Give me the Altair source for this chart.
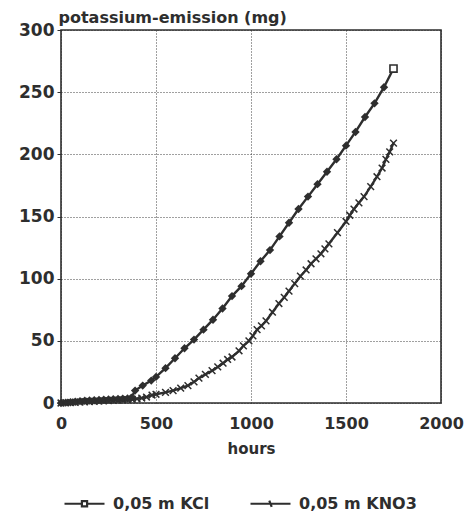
import altair as alt
import pandas as pd

# ---- data ----
kcl_hours = [0, 25, 50, 75, 100, 125, 150, 175, 200, 225, 250, 275, 300, 325, 350, 370,
             390, 430, 475, 500, 550, 600, 650, 700, 750, 800, 850, 900, 950, 1000, 1050,
             1100, 1150, 1200, 1250, 1300, 1350, 1400, 1450, 1500, 1550, 1600, 1650, 1700, 1750]
kcl_mg = [0, 0.3, 0.6, 1.0, 1.5, 1.8, 2.0, 2.2, 2.4, 2.6, 2.8, 3.0, 3.2, 3.4, 3.6, 4.2,
          10, 14, 18, 21, 28, 36, 44, 51, 59, 67, 76, 86, 94, 104, 114,
          123, 134, 145, 156, 166, 176, 186, 196, 207, 218, 230, 241, 254, 269]

kno3_hours = [0, 25, 50, 75, 100, 125, 150, 175, 200, 225, 250, 275, 300, 325, 350, 375,
              400, 425, 450, 479, 500, 550, 590, 630, 668, 700, 726, 760, 795, 825, 853,
              877, 900, 937, 960, 989, 1010, 1032, 1055, 1079, 1113, 1147, 1175, 1200, 1230,
              1260, 1290, 1316, 1342, 1368, 1389, 1410, 1455, 1500, 1520, 1542, 1568, 1595,
              1630, 1663, 1690, 1710, 1730, 1750]
kno3_mg = [0, 0.2, 0.4, 0.6, 0.8, 1.0, 1.2, 1.4, 1.6, 1.8, 2.0, 2.2, 2.4, 2.6, 2.8, 3.0,
           3.4, 4.0, 4.8, 6.4, 7, 8.5, 10, 12, 14, 17, 20, 23, 26, 29, 32,
           35, 37, 42, 46, 50, 54, 59, 62, 66, 73, 80, 85, 90, 96,
           102, 107, 112, 116, 120, 124, 128, 137, 146, 151, 156, 161, 166,
           174, 182, 189, 196, 202, 209]

series_names = ["0,05 m KCl", "0,05 m KNO3"]
x_ticks = [0, 500, 1000, 1500, 2000]
y_ticks = [0, 50, 100, 150, 200, 250, 300]

df = pd.concat([
    pd.DataFrame({"hours": kcl_hours, "mg": kcl_mg, "series": series_names[0]}),
    pd.DataFrame({"hours": kno3_hours, "mg": kno3_mg, "series": series_names[1]}),
], ignore_index=True)
df["last"] = df.groupby("series")["hours"].transform("max") == df["hours"]

INK = "#2e2e2e"
FONT = "DejaVu Sans"

x_enc = alt.X("hours:Q", scale=alt.Scale(domain=[0, 2000], nice=False),
              axis=alt.Axis(values=x_ticks, format="d", title="hours", grid=True, ticks=False,
                            labelPadding=12, titlePadding=10, labelFontSize=16,
                            titleFontSize=15, labelBound=False, labelFlush=False))
y_enc = alt.Y("mg:Q", scale=alt.Scale(domain=[0, 300], nice=False),
              axis=alt.Axis(values=y_ticks, title="potassium-emission (mg)", grid=True,
                            tickSize=4, labelPadding=3, labelFontSize=17,
                            titleAngle=0, titleAlign="left", titleBaseline="alphabetic",
                            titleX=-3, titleY=-8, titleFontSize=16))

base = alt.Chart(df)

lines = base.mark_line(color=INK, strokeWidth=2.4).encode(x=x_enc, y=y_enc, detail="series:N")

kcl_pts = base.transform_filter(
    (alt.datum.series == series_names[0]) & (alt.datum.last == False)
).mark_point(shape="diamond", filled=True, color=INK, size=70, opacity=1).encode(x="hours:Q", y="mg:Q")

kcl_end = base.transform_filter(
    (alt.datum.series == series_names[0]) & (alt.datum.last == True)
).mark_point(shape="square", filled=True, fill="white", stroke=INK, strokeWidth=1.6,
             size=50, opacity=1).encode(x="hours:Q", y="mg:Q")

kno3_pts = base.transform_filter(
    alt.datum.series == series_names[1]
).mark_point(shape="M-1,-1L1,1M-1,1L1,-1", filled=False, color=INK, strokeWidth=1.5,
             size=45, opacity=1).encode(x="hours:Q", y="mg:Q")

legend_layer = base.transform_filter("false").mark_point(
    filled=False, color=INK, opacity=1
).encode(
    x="hours:Q", y="mg:Q",
    shape=alt.Shape("series:N", scale=alt.Scale(
        domain=series_names,
        range=["M-1,0L-0.13,0M0.13,0L1,0M-0.13,-0.13L0.13,-0.13L0.13,0.13L-0.13,0.13Z",
               "M-1,0L1,0M-0.06,-0.16L0.06,0.16"]),
        legend=alt.Legend(title=None, orient="none", direction="horizontal",
                          legendX=2, legendY=452, symbolSize=1600, symbolStrokeWidth=2.2,
                          symbolStrokeColor=INK, symbolFillColor="white",
                          symbolOpacity=1, labelFontSize=16, labelOffset=7,
                          columnPadding=36, labelColor=INK, labelFont=FONT))
)

chart = alt.layer(lines, kcl_pts, kno3_pts, kcl_end, legend_layer).properties(
    width=380, height=373,
    autosize=alt.AutoSizeParams(type="none"),
    padding={"left": 61, "top": 30, "right": 35, "bottom": 111},
    background="white",
).configure_view(
    stroke=INK, strokeWidth=1.6
).configure_axis(
    gridColor=INK, gridDash=[1, 2], gridWidth=1, gridOpacity=0.9,
    domain=False, tickColor=INK,
    labelFont=FONT, titleFont=FONT, labelFontWeight="bold", titleFontWeight="bold",
    labelColor=INK, titleColor=INK,
).configure_legend(
    labelFontWeight="bold"
)

chart.save("out.html", embed_options={"renderer": "svg", "actions": False})
